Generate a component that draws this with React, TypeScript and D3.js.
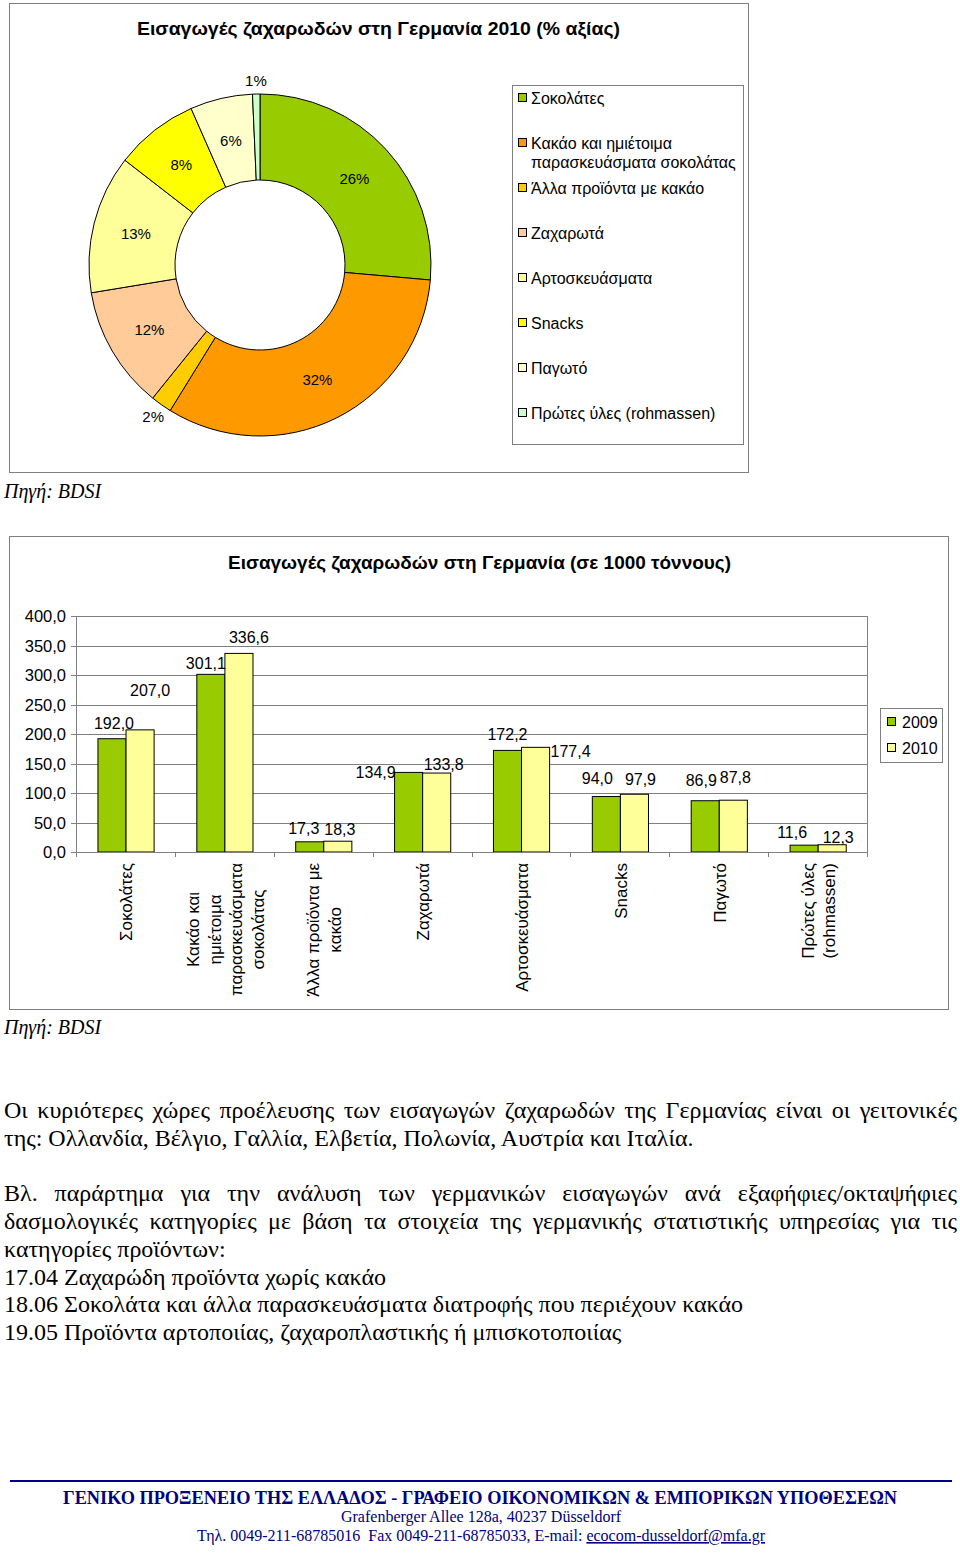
import React from 'react';
import * as d3 from 'd3';

// ---------- DATA ----------
const pieTitle = 'Εισαγωγές ζαχαρωδών στη Γερμανία 2010 (% αξίας)';
const pieCategories = [
  'Σοκολάτες',
  'Κακάο και ημιέτοιμα\nπαρασκευάσματα σοκολάτας',
  'Άλλα προϊόντα με κακάο',
  'Ζαχαρωτά',
  'Αρτοσκευάσματα',
  'Snacks',
  'Παγωτό',
  'Πρώτες ύλες (rohmassen)',
];
const piePercents = [26.4, 32.4, 2.0, 11.6, 13.1, 7.9, 5.9, 0.7];
const pieColors = ['#99CC00', '#FF9900', '#FFCC00', '#FFCC99', '#FFFF99', '#FFFF00', '#FFFFCC', '#CCFFCC'];

const barTitle = 'Εισαγωγές ζαχαρωδών στη Γερμανία (σε 1000 τόννους)';
const barCategories = [
  'Σοκολάτες',
  'Κακάο και\nημιέτοιμα\nπαρασκευάσματα\nσοκολάτας',
  'Άλλα προϊόντα με\nκακάο',
  'Ζαχαρωτά',
  'Αρτοσκευάσματα',
  'Snacks',
  'Παγωτό',
  'Πρώτες ύλες\n(rohmassen)',
];
const seriesNames = ['2009', '2010'];
const values2009 = [192.0, 301.1, 17.3, 134.9, 172.2, 94.0, 86.9, 11.6];
const values2010 = [207.0, 336.6, 18.3, 133.8, 177.4, 97.9, 87.8, 12.3];
const seriesColors = ['#99CC00', '#FFFF99'];
const yTicks = [0, 50, 100, 150, 200, 250, 300, 350, 400];

// label nudges (layout only) [dx, dy]
const labelNudge2009 = [[2, 1], [-5, 5], [-6, 3], [-33, 16], [0, 0], [-9, -2], [-4, -4], [-12, 3]];
const labelNudge2010 = [[10, -23], [10, 0], [2, 4], [7, 7], [35, 20], [6, 1], [2, -7], [6, 9]];

const sourceText = 'Πηγή: BDSI';
const paragraph1 = [
  'Οι κυριότερες χώρες προέλευσης των εισαγωγών ζαχαρωδών της Γερμανίας είναι οι γειτονικές',
  'της: Ολλανδία, Βέλγιο, Γαλλία, Ελβετία, Πολωνία, Αυστρία και Ιταλία.',
];
const paragraph2 = [
  'Βλ. παράρτημα για την ανάλυση των γερμανικών εισαγωγών ανά εξαφήφιες/οκταψήφιες',
  'δασμολογικές κατηγορίες με βάση τα στοιχεία της γερμανικής στατιστικής υπηρεσίας για τις',
  'κατηγορίες προϊόντων:',
  '17.04 Ζαχαρώδη προϊόντα χωρίς κακάο',
  '18.06 Σοκολάτα και άλλα παρασκευάσματα διατροφής που περιέχουν κακάο',
  '19.05 Προϊόντα αρτοποιίας, ζαχαροπλαστικής ή μπισκοτοποιίας',
];
const footer1 = 'ΓΕΝΙΚΟ ΠΡΟΞΕΝΕΙΟ ΤΗΣ ΕΛΛΑΔΟΣ - ΓΡΑΦΕΙΟ ΟΙΚΟΝΟΜΙΚΩΝ &  ΕΜΠΟΡΙΚΩΝ ΥΠΟΘΕΣΕΩΝ';
const footer2 = 'Grafenberger Allee 128a, 40237 Düsseldorf';
const footer3a = 'Τηλ. 0049-211-68785016  Fax 0049-211-68785033, E-mail: ';
const footer3b = 'ecocom-dusseldorf@mfa.gr';

// ---------- HELPERS ----------
const ARIAL = 'Arial, "Liberation Sans", sans-serif';
const TIMES = '"Times New Roman", "Liberation Serif", serif';
let ctx: CanvasRenderingContext2D | null = null;
function measure(text: string, font: string): number {
  if (!ctx) ctx = document.createElement('canvas').getContext('2d');
  ctx!.font = font;
  return ctx!.measureText(text).width;
}
const fmt = (v: number) => d3.format('.1f')(v).replace('.', ',');

function JustifiedLine({ text, y, x0, x1, size, justify }: any) {
  const font = `${size}px "Liberation Serif"`;
  if (!justify) {
    return <text x={x0} y={y} fontFamily={TIMES} fontSize={size} style={{ whiteSpace: 'pre' }}>{text}</text>;
  }
  const words = text.split(' ');
  const widths = words.map((w: string) => measure(w, font));
  const sum = d3.sum(widths);
  const gap = (x1 - x0 - sum) / (words.length - 1);
  let x = x0;
  return (
    <g>
      {words.map((w: string, i: number) => {
        const el = <text key={i} x={x} y={y} fontFamily={TIMES} fontSize={size}>{w}</text>;
        x += widths[i] + gap;
        return el;
      })}
    </g>
  );
}

export default function App() {
  // ---------- PIE ----------
  const cx = 260, cy = 265, rOuter = 171, rInner = 85;
  const pie = d3.pie<number>().sort(null).value((d) => d)(piePercents);
  const arc = d3.arc<d3.PieArcDatum<number>>().innerRadius(rInner).outerRadius(rOuter);
  const labelArc = d3.arc<d3.PieArcDatum<number>>().innerRadius(128).outerRadius(128);
  const outArc = d3.arc<d3.PieArcDatum<number>>().innerRadius(185).outerRadius(185);

  // ---------- BAR ----------
  const plotL = 76, plotR = 867, plotT = 616, plotB = 852;
  const x0 = d3.scaleBand<number>().domain(d3.range(barCategories.length)).range([plotL, plotR]).paddingInner(0).paddingOuter(0);
  const bw = x0.bandwidth();
  const x1 = d3.scaleBand<string>().domain(seriesNames).range([bw * 0.222, bw * 0.79]);
  const y = d3.scaleLinear().domain([0, 400]).range([plotB, plotT]);
  const series = [values2009, values2010];
  const nudges = [labelNudge2009, labelNudge2010];
  const xLabelFont = 17;
  const xLabelLH = 21.5;
  const xLabelTop = 863;
  const bodySize = 24;

  return (
    <svg width={960} height={1553} style={{ position: 'absolute', left: 0, top: 0, background: '#fff' }}>
      {/* PIE CHART */}
      <rect x={9.5} y={3.5} width={739} height={469} fill="#fff" stroke="#808080" strokeWidth={1} />
      <text x={378.5} y={35} textAnchor="middle" fontFamily={ARIAL} fontWeight="bold" fontSize={19}
        textLength={483} lengthAdjust="spacingAndGlyphs">{pieTitle}</text>
      <g transform={`translate(${cx},${cy})`}>
        {pie.map((d, i) => (
          <path key={i} d={arc(d)!} fill={pieColors[i]} stroke="#000" strokeWidth={1} />
        ))}
        {pie.map((d, i) => {
          const small = d.value < 3;
          const [lx, ly] = small ? outArc.centroid(d) : labelArc.centroid(d);
          return (
            <text key={i} x={lx} y={ly} textAnchor="middle" dominantBaseline="central" fontFamily={ARIAL} fontSize={15}>
              {Math.round(d.value) + '%'}
            </text>
          );
        })}
      </g>
      <rect x={512.5} y={85.5} width={231} height={359} fill="#fff" stroke="#808080" strokeWidth={1} />
      {pieCategories.map((c, i) => {
        const ly = 98 + 45 * i;
        const lines = c.split('\n');
        return (
          <g key={i}>
            <rect x={518.5} y={ly - 4.5} width={8} height={8} fill={pieColors[i]} stroke="#000" strokeWidth={1} />
            {lines.map((l, j) => (
              <text key={j} x={531} y={ly + j * 19.5} dominantBaseline="central" fontFamily={ARIAL} fontSize={16}>{l}</text>
            ))}
          </g>
        );
      })}
      <text x={4} y={498} fontFamily={TIMES} fontStyle="italic" fontSize={20}>{sourceText}</text>

      {/* BAR CHART */}
      <rect x={9.5} y={536.5} width={939} height={473} fill="#fff" stroke="#808080" strokeWidth={1} />
      <text x={479.5} y={569} textAnchor="middle" fontFamily={ARIAL} fontWeight="bold" fontSize={19}
        textLength={503} lengthAdjust="spacingAndGlyphs">{barTitle}</text>
      {yTicks.map((t) => (
        <g key={t}>
          {t > 0 && <line x1={plotL} x2={plotR} y1={Math.round(y(t)) + 0.5} y2={Math.round(y(t)) + 0.5} stroke="#808080" strokeWidth={1} />}
          <line x1={plotL - 5} x2={plotL} y1={Math.round(y(t)) + 0.5} y2={Math.round(y(t)) + 0.5} stroke="#808080" strokeWidth={1} />
          <text x={66} y={y(t)} textAnchor="end" dominantBaseline="central" fontFamily={ARIAL} fontSize={16.5}>{fmt(t)}</text>
        </g>
      ))}
      <line x1={plotR + 0.5} x2={plotR + 0.5} y1={plotT} y2={plotB} stroke="#808080" strokeWidth={1} />
      <line x1={plotL + 0.5} x2={plotL + 0.5} y1={plotT} y2={plotB} stroke="#808080" strokeWidth={1} />
      {d3.range(barCategories.length + 1).map((i) => {
        const xx = Math.round(plotL + bw * i) + 0.5;
        return <line key={i} x1={xx} x2={xx} y1={plotB} y2={plotB + 5} stroke="#808080" strokeWidth={1} />;
      })}
      {series.map((vals, s) =>
        vals.map((v, i) => {
          const bx = x0(i)! + x1(seriesNames[s])!;
          return (
            <rect key={`${s}-${i}`} x={bx} y={y(v)} width={x1.bandwidth()} height={plotB - y(v)}
              fill={seriesColors[s]} stroke="#000" strokeWidth={1} />
          );
        })
      )}
      <line x1={plotL} x2={plotR} y1={plotB + 0.5} y2={plotB + 0.5} stroke="#808080" strokeWidth={1} />
      {series.map((vals, s) =>
        vals.map((v, i) => {
          const bx = x0(i)! + x1(seriesNames[s])! + x1.bandwidth() / 2;
          const [dx, dy] = nudges[s][i];
          return (
            <text key={`l${s}-${i}`} x={bx + dx} y={y(v) - 16 + dy} textAnchor="middle" dominantBaseline="central"
              fontFamily={ARIAL} fontSize={16}>{fmt(v)}</text>
          );
        })
      )}
      {barCategories.map((c, i) => {
        const lines = c.split('\n');
        const maxW = d3.max(lines, (l) => measure(l, `${xLabelFont}px "Liberation Sans"`))!;
        const ccx = x0(i)! + bw / 2 + 1.5;
        const ccy = xLabelTop + maxW / 2;
        return (
          <g key={i}>
            {lines.map((l, j) => {
              const lx = ccx + (j - (lines.length - 1) / 2) * xLabelLH;
              return (
                <text key={j} transform={`translate(${lx},${ccy}) rotate(-90)`} textAnchor="middle" dominantBaseline="central"
                  fontFamily={ARIAL} fontSize={xLabelFont}>{l}</text>
              );
            })}
          </g>
        );
      })}
      <rect x={880.5} y={708.5} width={62} height={54} fill="#fff" stroke="#808080" strokeWidth={1} />
      {seriesNames.map((n, s) => (
        <g key={n}>
          <rect x={887.5} y={722 + 26 * s - 4.5} width={8} height={8} fill={seriesColors[s]} stroke="#000" strokeWidth={1} />
          <text x={902} y={722 + 26 * s} dominantBaseline="central" fontFamily={ARIAL} fontSize={16}>{n}</text>
        </g>
      ))}
      <text x={4} y={1034} fontFamily={TIMES} fontStyle="italic" fontSize={20}>{sourceText}</text>

      {/* TEXT */}
      <JustifiedLine text={paragraph1[0]} y={1118} x0={4} x1={957} size={bodySize} justify />
      <JustifiedLine text={paragraph1[1]} y={1146} x0={4} x1={957} size={bodySize} />
      <JustifiedLine text={paragraph2[0]} y={1201} x0={4} x1={957} size={bodySize} justify />
      <JustifiedLine text={paragraph2[1]} y={1229} x0={4} x1={957} size={bodySize} justify />
      {paragraph2.slice(2).map((t, i) => (
        <JustifiedLine key={i} text={t} y={1257 + i * 27.7} x0={4} x1={957} size={bodySize} />
      ))}

      {/* FOOTER */}
      <line x1={10} x2={952} y1={1481} y2={1481} stroke="#000080" strokeWidth={2} />
      <text x={480} y={1504} textAnchor="middle" fontFamily={TIMES} fontWeight="bold" fontSize={18} fill="#000080"
        textLength={834} lengthAdjust="spacingAndGlyphs">{footer1}</text>
      <text x={481} y={1522} textAnchor="middle" fontFamily={TIMES} fontSize={16} fill="#000080">{footer2}</text>
      <text x={481} y={1541} textAnchor="middle" fontFamily={TIMES} fontSize={16} fill="#000080" style={{ whiteSpace: 'pre' }}>
        {footer3a}<tspan textDecoration="underline">{footer3b}</tspan>
      </text>
    </svg>
  );
}
